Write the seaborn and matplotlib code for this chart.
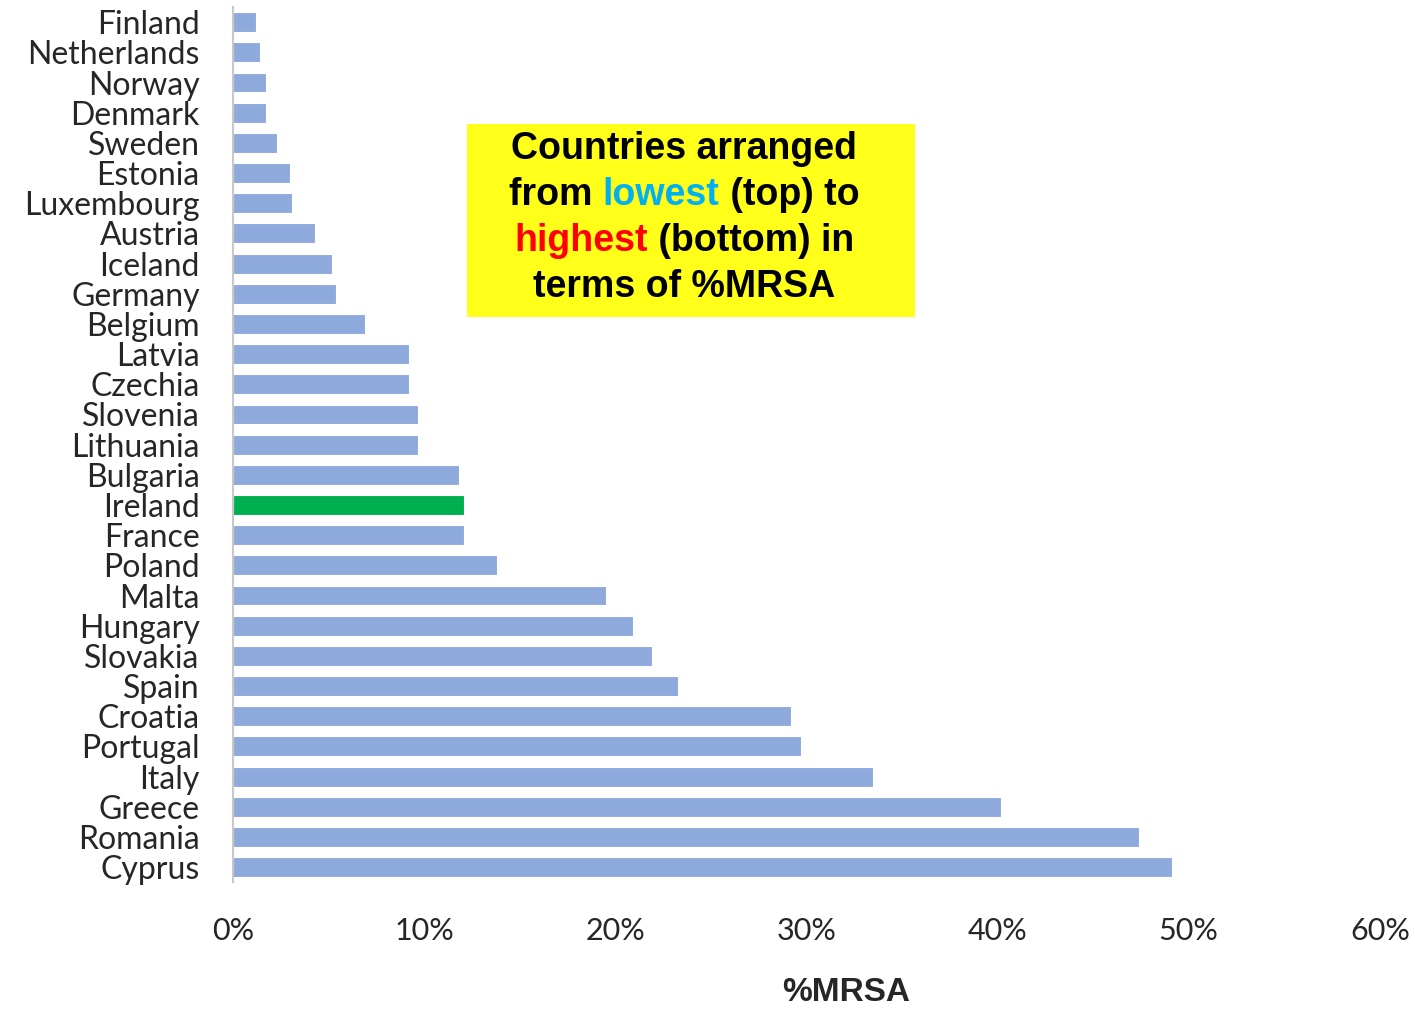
import numpy as np
import pandas as pd
import seaborn as sns
import matplotlib.pyplot as plt
from matplotlib.patches import Rectangle
from matplotlib.offsetbox import TextArea, HPacker, VPacker, AnchoredOffsetbox
from matplotlib.ticker import PercentFormatter

# %MRSA by country, lowest (top) to highest (bottom)
countries = ["Finland", "Netherlands", "Norway", "Denmark", "Sweden", "Estonia",
             "Luxembourg", "Austria", "Iceland", "Germany", "Belgium", "Latvia",
             "Czechia", "Slovenia", "Lithuania", "Bulgaria", "Ireland", "France",
             "Poland", "Malta", "Hungary", "Slovakia", "Spain", "Croatia",
             "Portugal", "Italy", "Greece", "Romania", "Cyprus"]
mrsa_pct = [1.2, 1.4, 1.7, 1.7, 2.3, 3.0, 3.1, 4.3, 5.2, 5.4, 6.9, 9.2,
            9.2, 9.7, 9.7, 11.8, 12.1, 12.1, 13.8, 19.5, 20.9, 21.9, 23.3, 29.2,
            29.7, 33.5, 40.2, 47.4, 49.1]
highlight = "Ireland"
xticks = [0, 10, 20, 30, 40, 50, 60]

df = pd.DataFrame({"country": countries, "mrsa": mrsa_pct})
palette = {c: ("#00B050" if c == highlight else "#8EA9DB") for c in countries}

sns.set_style("white")
plt.rcParams["font.family"] = ["Lato", "DejaVu Sans"]

fig = plt.figure(figsize=(14.15, 10.14), dpi=100)
ax = fig.add_axes([0.1647, 0.130, 0.8105, 0.863])

sns.barplot(data=df, y="country", x="mrsa", hue="country", palette=palette,
            order=countries, legend=False, width=0.66, saturation=1,
            edgecolor="white", linewidth=0.8, ax=ax)

ax.set_xlim(0, 60)
ax.set_xticks(xticks)
ax.xaxis.set_major_formatter(PercentFormatter(decimals=0))
ax.tick_params(axis="x", length=0, pad=25, labelsize=22, labelcolor="#262626")
ax.tick_params(axis="y", length=0, pad=24, labelsize=23, labelcolor="#262626")
ax.set_ylabel("")
ax.set_xlabel("%MRSA", fontsize=24, fontweight="bold", color="#262626",
              family=["Liberation Sans", "DejaVu Sans"])
ax.xaxis.set_label_coords(0.535, -0.108)

for s in ["top", "right", "bottom"]:
    ax.spines[s].set_visible(False)
ax.spines["left"].set_color("#C8C8C8")
ax.spines["left"].set_linewidth(1.5)

# yellow annotation box
fig.patches.append(Rectangle((467 / 1415, 1 - 317 / 1014), 448 / 1415, 193 / 1014,
                             transform=fig.transFigure, facecolor="#FFFF1A",
                             edgecolor="none", zorder=5))

props = dict(fontsize=27, fontweight="bold", family=["Liberation Sans", "DejaVu Sans"])


def piece(s, color="black"):
    return TextArea(s, textprops=dict(color=color, **props))


lines = [
    [piece("Countries arranged")],
    [piece("from "), piece("lowest", "#00B0F0"), piece(" (top) to")],
    [piece("highest", "#FF0000"), piece(" (bottom) in")],
    [piece("terms of %MRSA")],
]
rows = [HPacker(children=l, pad=0, sep=0, align="baseline") for l in lines]
box = VPacker(children=rows, pad=0, sep=7, align="center")
anch = AnchoredOffsetbox(loc="center", child=box, frameon=False,
                         bbox_to_anchor=(684 / 1415, 1 - 218 / 1014),
                         bbox_transform=fig.transFigure, pad=0, borderpad=0)
anch.set_zorder(6)
fig.add_artist(anch)

fig.savefig("out.png", dpi=100)
